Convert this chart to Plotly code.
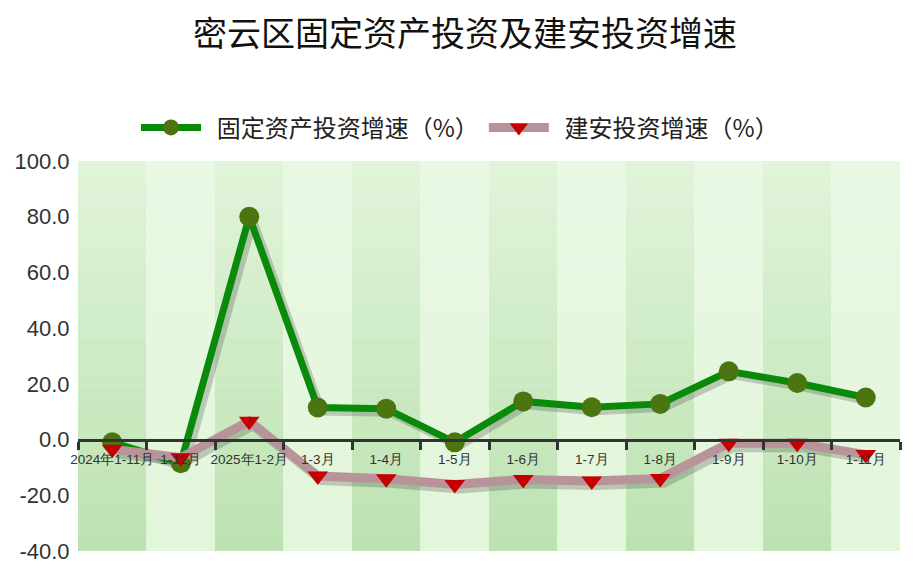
import plotly.graph_objects as go

# 数据
months = ["2024年1-11月", "1-12月", "2025年1-2月", "1-3月", "1-4月", "1-5月",
          "1-6月", "1-7月", "1-8月", "1-9月", "1-10月", "1-11月"]
fixed_invest = [-1.0, -8.5, 80.0, 11.5, 11.1, -1.0, 13.7, 11.6, 12.8, 24.5, 20.3, 15.1]
build_invest = [-3.5, -6.5, 6.6, -13.1, -14.1, -16.1, -14.3, -14.9, -14.0, -1.3, -1.3, -5.4]
y_ticks = [-40, -20, 0, 20, 40, 60, 80, 100]
y_labels = [f"{v:.1f}" for v in y_ticks]

fig = go.Figure()

# 阴影（画在偏移的隐藏坐标轴上）
fig.add_trace(go.Scatter(x=months, y=fixed_invest, mode="lines", xaxis="x", yaxis="y",
                         line=dict(color="rgba(60,60,60,0.25)", width=8),
                         showlegend=False, hoverinfo="skip"))
fig.add_trace(go.Scatter(x=months, y=build_invest, mode="lines", xaxis="x", yaxis="y",
                         line=dict(color="rgba(60,60,60,0.25)", width=10),
                         showlegend=False, hoverinfo="skip"))

# 主线
fig.add_trace(go.Scatter(x=months, y=fixed_invest, mode="lines+markers",
                         name="\u00a0\u00a0固定资产投资增速（%）",
                         xaxis="x2", yaxis="y2",
                         line=dict(color="#0a8a0a", width=7),
                         marker=dict(symbol="circle", size=20, color="#4a7511")))
fig.add_trace(go.Scatter(x=months, y=build_invest, mode="lines+markers",
                         name="\u00a0\u00a0建安投资增速（%）",
                         xaxis="x2", yaxis="y2",
                         line=dict(color="#b8949a", width=9),
                         marker=dict(symbol="triangle-down", size=18, color="#c40000")))


def mix(c1, c2, t):
    return "rgb(%d,%d,%d)" % tuple(round(a + (b - a) * t) for a, b in zip(c1, c2))


# 背景色带（上浅下深的渐变）
shapes = []
steps = 24
for i in range(len(months)):
    if i % 2 == 0:
        top, bot = (225, 244, 218), (188, 226, 177)
    else:
        top, bot = (233, 248, 227), (226, 246, 218)
    for k in range(steps):
        shapes.append(dict(type="rect", xref="x2", yref="paper", layer="below",
                           x0=i - 0.5, x1=i + 0.5, y0=k / steps, y1=min(1, (k + 1.6) / steps),
                           fillcolor=mix(bot, top, (k + 0.5) / steps), line=dict(width=0)))

dx = 4 / 68.5
dy = 4 / 2.79
zero_pos = (0 - y_ticks[0]) / (y_ticks[-1] - y_ticks[0])

# 页面 body 有 8px 边距，图形尺寸相应缩小
W, H = 916, 570

fig.update_layout(
    width=W, height=H,
    margin=dict(l=70, r=24, t=153, b=27, autoexpand=False),
    paper_bgcolor="white", plot_bgcolor="rgba(0,0,0,0)",
    font=dict(family="Noto Sans CJK SC, Arial", color="#333"),
    title=dict(text="密云区固定资产投资及建安投资增速", x=457 / W, xanchor="center",
               yref="container", y=1 - 26 / H, yanchor="middle",
               font=dict(size=34, color="#111", family="Noto Sans CJK SC")),
    legend=dict(orientation="h", x=452 / W, xref="container", xanchor="center",
                y=1.085, yanchor="middle", itemwidth=60,
                font=dict(size=24, color="#222", family="Noto Sans CJK SC"),
                bgcolor="rgba(0,0,0,0)"),
    shapes=shapes,
    xaxis=dict(type="category", range=[-0.5 - dx, len(months) - 0.5 - dx], visible=False,
               fixedrange=True),
    yaxis=dict(range=[y_ticks[0] + dy, y_ticks[-1] + dy], visible=False, fixedrange=True),
    xaxis2=dict(type="category", overlaying="x", range=[-0.5, len(months) - 0.5],
                anchor="free", position=zero_pos, showline=True, linecolor="#333", linewidth=3,
                ticks="outside", tickson="boundaries", ticklen=8, tickwidth=3, tickcolor="#333",
                tickangle=0, automargin=False, ticklabelstandoff=6,
                tickfont=dict(size=13.5, family="Arial", color="#333"), showgrid=False,
                zeroline=False),
    yaxis2=dict(overlaying="y", range=[y_ticks[0], y_ticks[-1]], tickvals=y_ticks,
                ticktext=y_labels, automargin=False,
                showgrid=False, zeroline=False, showline=False,
                tickfont=dict(size=22, family="Arial", color="#333"),
                ticks="outside", ticklen=3, tickcolor="rgba(0,0,0,0)"),
)

fig.write_html("out.html")
